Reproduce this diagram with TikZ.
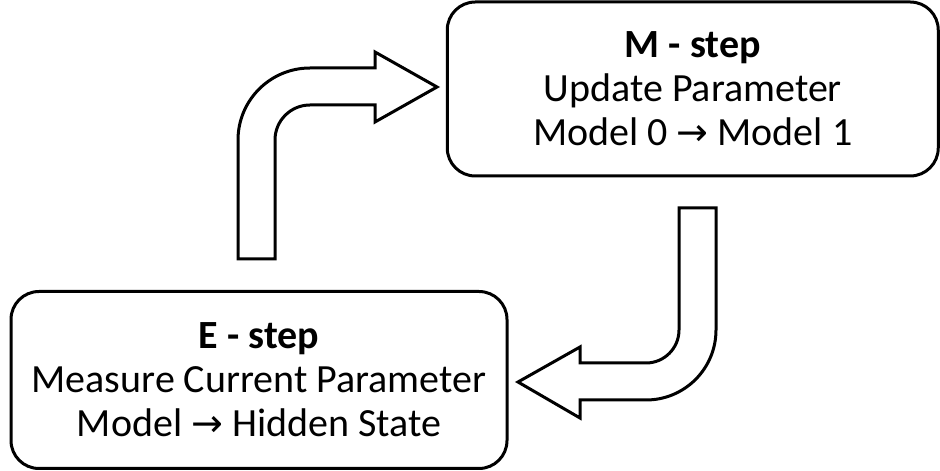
\documentclass[tikz,border=0pt]{standalone}
\usepackage{fontspec}
\setmainfont{Carlito}
\newfontfamily\arrowfont{DejaVu Sans}[Scale=0.95]
\newcommand{\myarrow}{{\arrowfont →}}
\begin{document}
\begin{tikzpicture}[x=1pt,y=1pt,
  stepnode/.style={draw=black,line width=3pt,rounded corners=28pt,align=center,
    font=\fontsize{40}{44}\selectfont,inner sep=0pt},
  bigarrow/.style={draw=black,line width=3pt,fill=white,line join=miter}]
\useasboundingbox (0,0) rectangle (940,471);
% M-step box
\node[stepnode,minimum width=491pt,minimum height=174pt] (m) at (692.75,382) {\textbf{M - step}\\Update Parameter\\Model 0 \myarrow\ Model 1};
% E-step box
\node[stepnode,minimum width=496pt,minimum height=177pt] (e) at (259,91) {\textbf{E - step}\\Measure Current Parameter\\Model \myarrow\ Hidden State};
% arrow from E to M
\draw[bigarrow] (238,212) -- (238,331) arc[start angle=180,end angle=90,radius=72]
  -- (375,403) -- (375,419) -- (437,384) -- (375,349) -- (375,366) -- (310,366)
  arc[start angle=90,end angle=180,radius=35] -- (275,212) -- cycle;
% arrow from M to E
\draw[bigarrow] (716,263) -- (716,141) arc[start angle=0,end angle=-90,radius=70]
  -- (580,71) -- (580,53) -- (518,89) -- (580,124) -- (580,108) -- (646,108)
  arc[start angle=-90,end angle=0,radius=33] -- (679,263) -- cycle;
\end{tikzpicture}
\end{document}
